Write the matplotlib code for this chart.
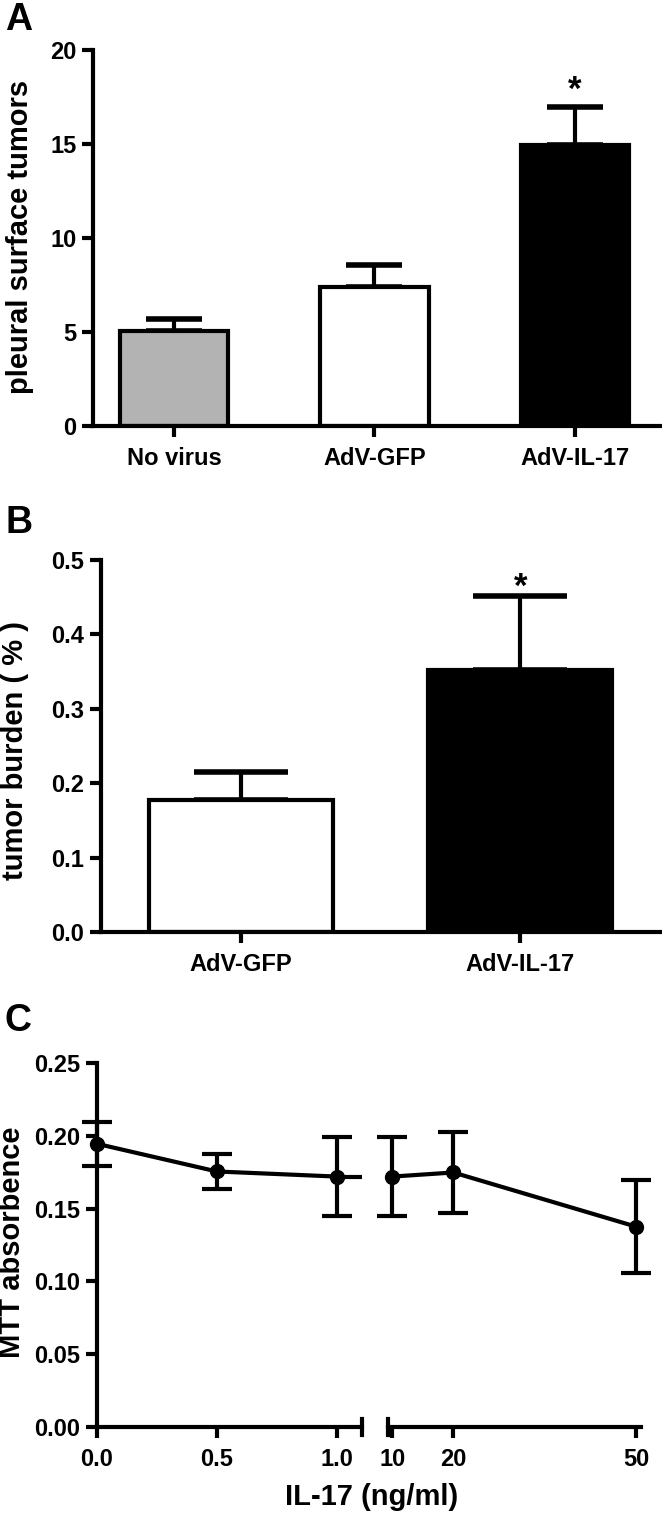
import matplotlib
matplotlib.use("Agg")
import matplotlib.pyplot as plt
import numpy as np

FONT = ['Liberation Sans', 'DejaVu Sans']
plt.rcParams['font.family'] = FONT
plt.rcParams['font.weight'] = 'bold'
plt.rcParams['axes.linewidth'] = 3

# --- data ---
a_groups = ["No virus", "AdV-GFP", "AdV-IL-17"]
a_means = [5.05, 7.38, 14.93]
a_sem = [0.62, 1.18, 2.06]
a_colors = ["#b3b3b3", "white", "black"]

b_groups = ["AdV-GFP", "AdV-IL-17"]
b_means = [0.178, 0.352]
b_sem = [0.037, 0.099]
b_colors = ["white", "black"]

c_dose = [0.0, 0.5, 1.0, 10, 20, 50]
c_dose_labels = ["0.0", "0.5", "1.0", "10", "20", "50"]
c_mtt = [0.1945, 0.1755, 0.172, 0.172, 0.1748, 0.1376]
c_err = [0.015, 0.012, 0.027, 0.027, 0.028, 0.032]

W, H = 662, 1514
fig = plt.figure(figsize=(W / 100, H / 100), dpi=100)


def px_axes(left, right, top, bottom):
    return fig.add_axes([left / W, 1 - bottom / H, (right - left) / W, (bottom - top) / H])


def style(ax):
    for s in ('top', 'right'):
        ax.spines[s].set_visible(False)
    ax.tick_params(width=3, length=8, labelsize=17)
    ax.tick_params(axis='y', pad=4)


# ---------------- A ----------------
axA = px_axes(93, 660, 50, 426)
style(axA)
xa = np.arange(len(a_groups))
axA.bar(xa, a_means, width=0.54, color=a_colors, edgecolor='black', linewidth=3, zorder=2)
axA.errorbar(xa, a_means, yerr=[np.zeros(len(a_sem)), a_sem], fmt='none', ecolor='black',
             elinewidth=3, capsize=20, capthick=4, zorder=1)
axA.set_xlim(-0.404, 2.424)
axA.set_ylim(0, 20)
axA.set_yticks([0, 5, 10, 15, 20])
axA.set_xticks(xa)
axA.set_xticklabels(a_groups)
axA.tick_params(axis='x', pad=7)
axA.text(2, a_means[2] + a_sem[2], "*", ha='center', va='bottom', fontsize=25)
fig.text(20 / W, 1 - 237 / H, "pleural surface tumors", rotation=90, ha='center', va='center',
         fontsize=21)
fig.text(5 / W, 1 - 2 / H, "A", ha='left', va='top', fontsize=27)

# ---------------- B ----------------
axB = px_axes(101, 660, 560, 932)
style(axB)
xb = np.arange(len(b_groups))
axB.bar(xb, b_means, width=0.66, color=b_colors, edgecolor='black', linewidth=3, zorder=2)
axB.errorbar(xb, b_means, yerr=[np.zeros(len(b_sem)), b_sem], fmt='none', ecolor='black',
             elinewidth=3, capsize=34, capthick=4, zorder=1)
axB.set_xlim(-0.5, 1.5)
axB.set_ylim(0, 0.5)
axB.set_yticks(np.arange(0, 0.51, 0.1))
axB.yaxis.set_major_formatter(matplotlib.ticker.FormatStrFormatter('%.1f'))
axB.set_xticks(xb)
axB.set_xticklabels(b_groups)
axB.tick_params(axis='x', pad=7)
axB.text(1, b_means[1] + b_sem[1] - 0.01, "*", ha='center', va='bottom', fontsize=25)
fig.text(15 / W, 1 - 750 / H, "tumor burden ( % )", rotation=90, ha='center', va='center',
         fontsize=21)
fig.text(5 / W, 1 - 505 / H, "B", ha='left', va='top', fontsize=27)

# ---------------- C (broken x axis) ----------------
axC1 = px_axes(97, 362, 1063, 1427)
axC2 = px_axes(388, 641, 1063, 1427)
style(axC1)
style(axC2)
axC2.spines['left'].set_visible(False)
axC2.tick_params(axis='y', left=False, labelleft=False)

c_dose = np.array(c_dose)
c_mtt = np.array(c_mtt)
c_err = np.array(c_err)
low = c_dose <= 1
high = c_dose >= 10

for ax, m in ((axC1, low), (axC2, high)):
    ax.errorbar(c_dose[m], c_mtt[m], yerr=c_err[m], fmt='-o', color='black', lw=3,
                markersize=10, elinewidth=3, capsize=11, capthick=3, clip_on=False, zorder=3)
    # segment that crosses the break, clipped by each axes
    ax.plot(c_dose[2:4], c_mtt[2:4], color='black', lw=3, zorder=2)
    ax.set_ylim(0, 0.25)
    ax.tick_params(axis='x', pad=7)

axC1.set_xlim(0, 1.106)
axC2.set_xlim(9.28, 50.8)
axC1.set_xticks(c_dose[low])
axC1.set_xticklabels(np.array(c_dose_labels)[low])
axC2.set_xticks(c_dose[high])
axC2.set_xticklabels(np.array(c_dose_labels)[high])
axC1.set_yticks(np.arange(0, 0.251, 0.05))
axC1.yaxis.set_major_formatter(matplotlib.ticker.FormatStrFormatter('%.2f'))

# break marks
d = 0.022
axC1.plot([1, 1], [-d, d], transform=axC1.transAxes, color='black', lw=3, clip_on=False)
axC2.plot([0, 0], [-d, d], transform=axC2.transAxes, color='black', lw=3, clip_on=False)

fig.text(12 / W, 1 - 1242 / H, "MTT absorbence", rotation=90, ha='center', va='center',
         fontsize=21)
fig.text(372 / W, 1 - 1497 / H, "IL-17 (ng/ml)", ha='center', va='center', fontsize=21)
fig.text(5 / W, 1 - 1003 / H, "C", ha='left', va='top', fontsize=27)

fig.savefig("out.png", dpi=100, facecolor='white')
